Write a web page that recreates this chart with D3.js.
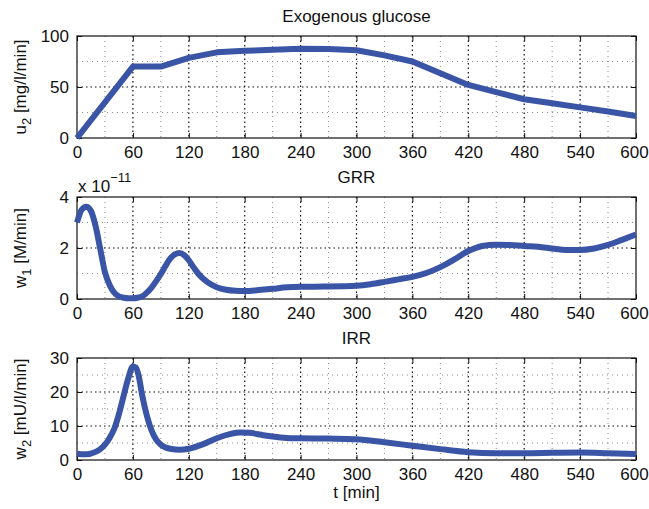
<!DOCTYPE html>
<html><head><meta charset="utf-8">
<script src="https://cdn.jsdelivr.net/npm/d3@7"></script>
<style>body{margin:0;background:#fff}svg{display:block}text{font-family:"Liberation Sans",Arial,Helvetica,sans-serif;fill:#111}</style>
</head><body><svg id="c" width="649" height="509"></svg>
<script>
// ---------- data ----------
const timeTicks = [0,60,120,180,240,300,360,420,480,540,600];
const timeMinor = [30,90,150,210,270,330,390,450,510,570];

const u2Time   = [0,60,90,120,150,180,210,240,270,300,330,360,390,420,450,480,510,540,570,600];
const u2Values = [0,70,70,78.5,84,85.5,86.5,87.5,87.2,86,81,75,63.5,52,45,38,34,30,26,21.5];

const w1Time   = [0,5,10,15,20,25,30,35,40,45,50,55,60,65,70,75,80,85,90,95,100,105,110,115,120,125,130,140,150,160,170,180,195,210,225,240,255,270,285,300,315,330,345,360,375,390,405,420,435,450,465,480,495,510,525,540,555,570,585,600];
const w1Values = [3.0,3.5,3.62,3.45,2.85,1.95,1.05,0.55,0.25,0.1,0.05,0.03,0.03,0.05,0.1,0.25,0.45,0.7,0.98,1.3,1.58,1.75,1.8,1.72,1.52,1.25,1.0,0.66,0.46,0.36,0.32,0.31,0.35,0.4,0.46,0.48,0.48,0.49,0.5,0.52,0.58,0.67,0.77,0.87,1.02,1.25,1.55,1.88,2.08,2.13,2.12,2.08,2.05,1.98,1.92,1.92,1.98,2.12,2.32,2.53];

const w2Time   = [0,10,20,25,30,35,40,45,50,55,60,63,66,70,75,80,85,90,100,110,120,135,150,165,175,185,200,210,225,240,270,300,330,360,390,420,450,480,510,540,570,600];
const w2Values = [1.8,1.7,2.4,3.2,4.5,6.5,9.2,13.5,18.8,24,27.5,27.2,25,19,13,8.7,6,4.5,3.3,3.0,3.3,4.6,6.4,7.7,8.1,8.0,7.3,6.9,6.5,6.4,6.3,6.1,5.2,4.2,3.2,2.3,2.0,2.0,2.1,2.2,2.0,1.75];

const panelTitles = ["Exogenous glucose","GRR","IRR"];
const u2Ticks = [0,50,100], u2Minor = [25,75];
const w1Ticks = [0,2,4],    w1Minor = [1,3];
const w2Ticks = [0,10,20,30], w2Minor = [5,15,25];

// ---------- layout ----------
const L = 77, R = 636, H = 102, tops = [36,197,358];
const FS = 17;
const lineColor = "#3a55a6";
const svg = d3.select("#c");
const x = d3.scaleLinear().domain([0,600]).range([L,R]);

const panels = [
  {title:panelTitles[0], t:u2Time, v:u2Values, dom:[0,100], ticks:u2Ticks, minor:u2Minor, lab:["u","2"," [mg/l/min]"]},
  {title:panelTitles[1], t:w1Time, v:w1Values, dom:[0,4], ticks:w1Ticks, minor:w1Minor, lab:["w","1"," [M/min]"]},
  {title:panelTitles[2], t:w2Time, v:w2Values, dom:[0,30], ticks:w2Ticks, minor:w2Minor, lab:["w","2"," [mU/l/min]"]}
];

panels.forEach((p,i)=>{
  const top = tops[i], bot = top+H;
  const y = d3.scaleLinear().domain(p.dom).range([bot,top]);
  const g = svg.append("g");
  // minor grid
  timeMinor.forEach(t=>g.append("line").attr("x1",x(t)).attr("x2",x(t)).attr("y1",top).attr("y2",bot)
     .attr("stroke","#8a8a8a").attr("stroke-width",1).attr("stroke-dasharray","1,4"));
  p.minor.forEach(v=>g.append("line").attr("x1",L).attr("x2",R).attr("y1",y(v)).attr("y2",y(v))
     .attr("stroke","#8a8a8a").attr("stroke-width",1).attr("stroke-dasharray","1,4"));
  // major grid
  timeTicks.slice(1,-1).forEach(t=>g.append("line").attr("x1",x(t)).attr("x2",x(t)).attr("y1",top).attr("y2",bot)
     .attr("stroke","#111").attr("stroke-width",1.2).attr("stroke-dasharray","1.5,3"));
  p.ticks.slice(1,-1).forEach(v=>g.append("line").attr("x1",L).attr("x2",R).attr("y1",y(v)).attr("y2",y(v))
     .attr("stroke","#111").attr("stroke-width",1.2).attr("stroke-dasharray","1.5,3"));
  // axes (inside ticks, both sides)
  const ax = d3.axisBottom(x).tickValues(timeTicks).tickSizeInner(-5).tickSizeOuter(0).tickPadding(8).tickFormat(d3.format("d"));
  const axB = g.append("g").attr("transform",`translate(0,${bot})`).call(ax);
  const axT = g.append("g").attr("transform",`translate(0,${top})`).call(d3.axisTop(x).tickValues(timeTicks).tickSizeInner(-5).tickSizeOuter(0).tickFormat(""));
  const ay = d3.axisLeft(y).tickValues(p.ticks).tickSizeInner(-5).tickSizeOuter(0).tickPadding(8).tickFormat(d3.format("d"));
  const axL = g.append("g").attr("transform",`translate(${L},0)`).call(ay);
  const axR = g.append("g").attr("transform",`translate(${R},0)`).call(d3.axisRight(y).tickValues(p.ticks).tickSizeInner(-5).tickSizeOuter(0).tickFormat(""));
  [axB,axT,axL,axR].forEach(a=>{a.select(".domain").remove(); a.selectAll("line").attr("stroke","#111");});
  axB.selectAll("text").attr("font-size",FS).attr("fill","#111").attr("font-family",null)
     .attr("dx",d=>d===600?-2:0);
  axL.selectAll("text").attr("font-size",FS).attr("fill","#111").attr("font-family",null);
  g.append("rect").attr("x",L).attr("y",top).attr("width",R-L).attr("height",H)
    .attr("fill","none").attr("stroke","#111").attr("stroke-width",1.2);
  // line
  const data = p.t.map((t,k)=>[t,p.v[k]]);
  g.append("path").datum(data)
    .attr("d",d3.line().x(d=>x(d[0])).y(d=>y(d[1])).curve(i===0?d3.curveLinear:d3.curveMonotoneX))
    .attr("fill","none").attr("stroke",lineColor).attr("stroke-width",6).attr("stroke-linejoin","round");
  // title
  svg.append("text").attr("x",(L+R)/2).attr("y",top-14).attr("text-anchor","middle").attr("font-size",FS).text(p.title);
  // y label
  const yl = svg.append("text").attr("transform",`translate(26,${(top+bot)/2}) rotate(-90)`)
     .attr("text-anchor","middle").attr("font-size",FS);
  yl.append("tspan").text(p.lab[0]);
  yl.append("tspan").attr("dy",5).attr("font-size",13).text(p.lab[1]);
  yl.append("tspan").attr("dy",-5).text(p.lab[2]);
});

// exponent label for panel 2
const ex = svg.append("text").attr("x",78).attr("y",192).attr("font-size",FS);
ex.append("tspan").text("x 10");
ex.append("tspan").attr("dy",-10).attr("font-size",13).text("\u221211");

// x label
svg.append("text").attr("x",(L+R)/2).attr("y",498).attr("text-anchor","middle").attr("font-size",FS).text("t [min]");
</script></body></html>
